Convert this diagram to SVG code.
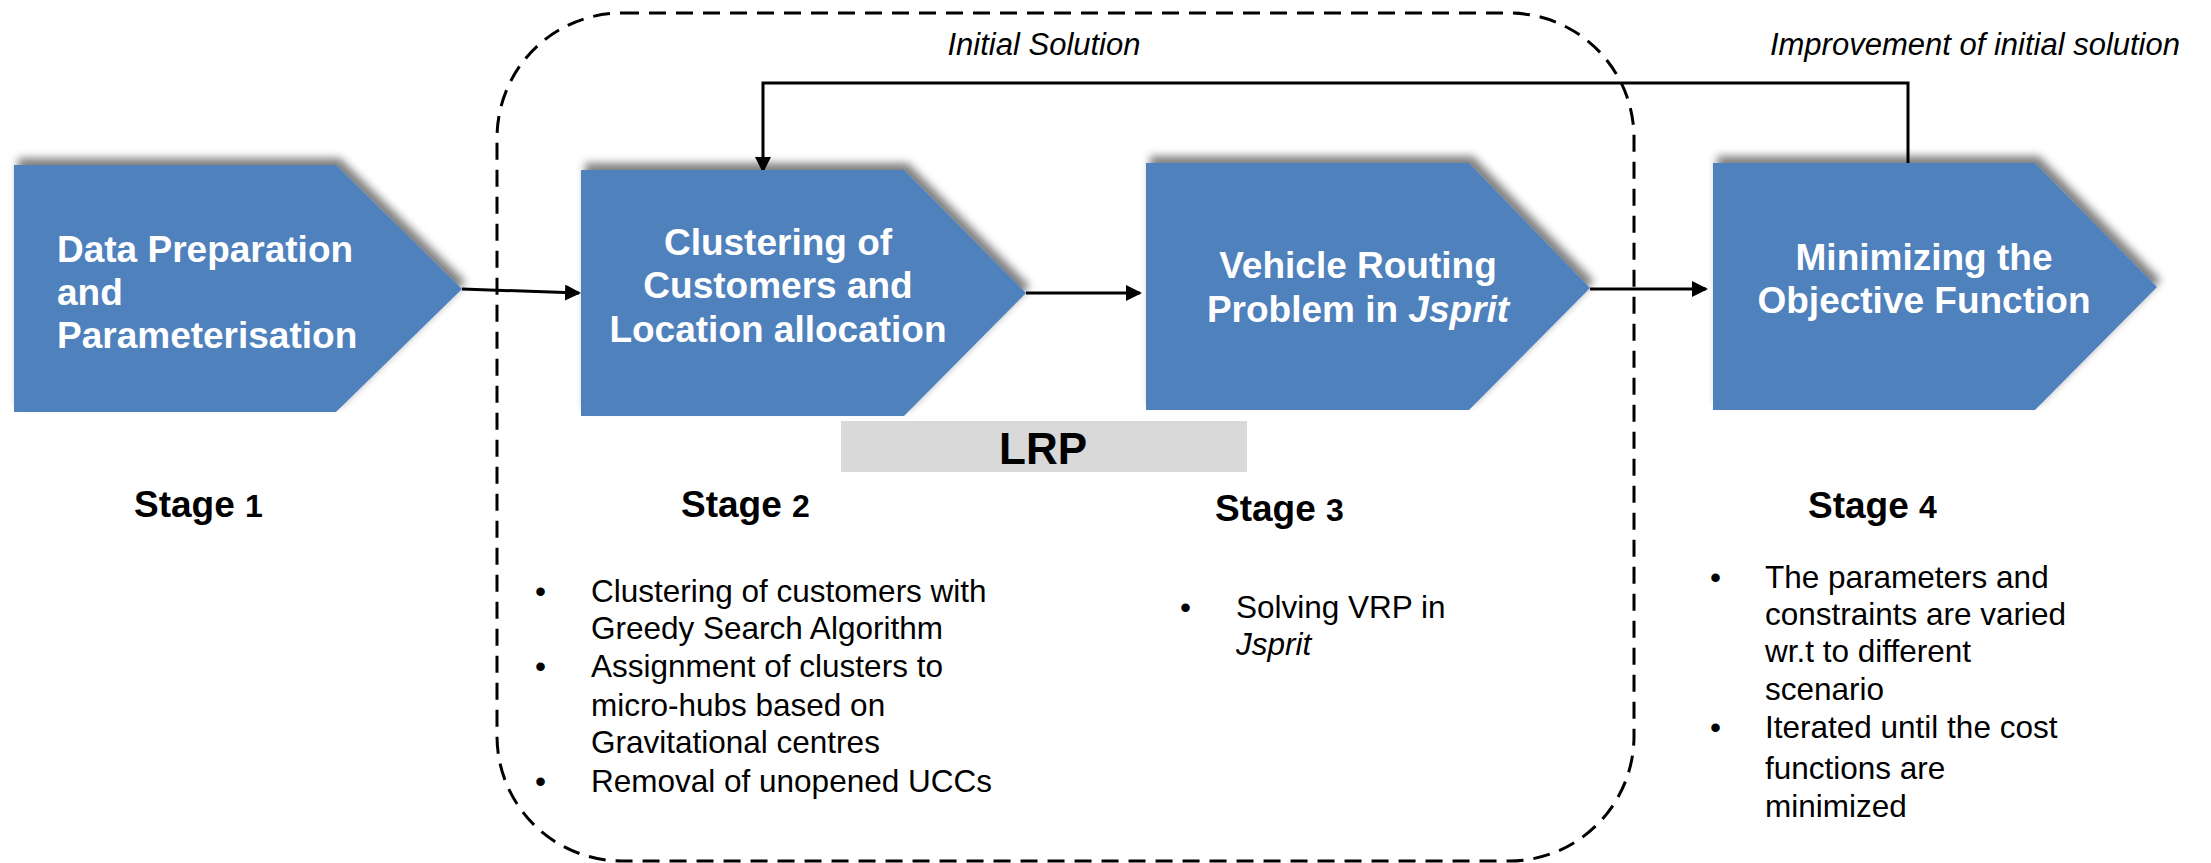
<svg xmlns="http://www.w3.org/2000/svg" width="2211" height="863" viewBox="0 0 2211 863">
  <defs>
    <style>
      .node { fill: #4f81bd; filter: url(#shadow); }
      .ntext { font-family: "Liberation Sans", Arial, sans-serif; font-weight: bold; font-size: 37px; fill: #ffffff; }
      .stage { font-family: "Liberation Sans", Arial, sans-serif; font-weight: bold; font-size: 37px; fill: #000000; }
      .stage .num { font-size: 32px; }
      .body { font-family: "Liberation Sans", Arial, sans-serif; font-size: 31.5px; fill: #000000; }
      .note { font-family: "Liberation Sans", Arial, sans-serif; font-style: italic; font-size: 31px; fill: #000000; }
      .conn { fill: none; stroke: #000000; stroke-width: 3; }
      .frame { fill: none; stroke: #000000; stroke-width: 3; stroke-dasharray: 17 10; }
    </style>
    <filter id="shadow" x="-10%" y="-15%" width="125%" height="130%">
      <feGaussianBlur in="SourceAlpha" stdDeviation="4"/>
      <feOffset dx="4" dy="-7"/>
      <feComponentTransfer>
        <feFuncA type="linear" slope="0.5"/>
      </feComponentTransfer>
      <feMerge>
        <feMergeNode/>
        <feMergeNode in="SourceGraphic"/>
      </feMerge>
    </filter>
    <marker id="arrow" viewBox="0 0 16 16" refX="14" refY="8" markerWidth="16" markerHeight="16" markerUnits="userSpaceOnUse" orient="auto">
      <path d="M0,0 L16,8 L0,16 z" fill="#000000"/>
    </marker>
  </defs>

  <rect width="2211" height="863" fill="#ffffff"/>

  <!-- LRP boundary around stages 2 and 3 -->
  <g id="lrp-frame">
    <rect class="frame" x="497" y="13" width="1137" height="848" rx="125" ry="125"/>
    <text class="note" x="1044" y="55" text-anchor="middle" font-size="30">Initial Solution</text>
  </g>

  <text id="improvement-label" class="note" x="2180" y="55" text-anchor="end">Improvement of initial solution</text>

  <!-- connectors -->
  <g id="connectors">
    <path class="conn" d="M462,289 L579,293" marker-end="url(#arrow)"/>
    <path class="conn" d="M1026,293 L1140,293" marker-end="url(#arrow)"/>
    <path class="conn" d="M1590,289 L1706,289" marker-end="url(#arrow)"/>
    <path class="conn" d="M1908,163 L1908,83 L763,83 L763,171" marker-end="url(#arrow)"/>
  </g>

  <!-- stage 1 -->
  <g id="node-data-preparation">
    <polygon class="node" points="14,165 336,165 462,289 336,412 14,412"/>
    <text class="ntext" x="57" y="262">Data Preparation</text>
    <text class="ntext" x="57" y="305">and</text>
    <text class="ntext" x="57" y="348">Parameterisation</text>
  </g>

  <!-- stage 2 -->
  <g id="node-clustering">
    <polygon class="node" points="581,170 904,170 1026,293 904,416 581,416"/>
    <text class="ntext" x="778" y="255" text-anchor="middle">Clustering of</text>
    <text class="ntext" x="778" y="298" text-anchor="middle">Customers and</text>
    <text class="ntext" x="778" y="342" text-anchor="middle">Location allocation</text>
  </g>

  <!-- stage 3 -->
  <g id="node-vrp">
    <polygon class="node" points="1146,163 1469,163 1590,288 1469,410 1146,410"/>
    <text class="ntext" x="1358" y="278" text-anchor="middle">Vehicle Routing</text>
    <text class="ntext" x="1358" y="322" text-anchor="middle">Problem in <tspan font-style="italic">Jsprit</tspan></text>
  </g>

  <!-- stage 4 -->
  <g id="node-objective">
    <polygon class="node" points="1713,163 2035,163 2157,287 2035,410 1713,410"/>
    <text class="ntext" x="1924" y="270" text-anchor="middle">Minimizing the</text>
    <text class="ntext" x="1924" y="313" text-anchor="middle">Objective Function</text>
  </g>

  <!-- LRP bar -->
  <g id="lrp-label">
    <rect x="841" y="421" width="406" height="51" fill="#d9d9d9"/>
    <text x="1043" y="464" text-anchor="middle" font-family="Liberation Sans, Arial, sans-serif" font-weight="bold" font-size="44" fill="#000000">LRP</text>
  </g>

  <!-- stage captions -->
  <g id="stage-captions">
    <text class="stage" x="134" y="517">Stage <tspan class="num">1</tspan></text>
    <text class="stage" x="681" y="517">Stage <tspan class="num">2</tspan></text>
    <text class="stage" x="1215" y="521">Stage <tspan class="num">3</tspan></text>
    <text class="stage" x="1808" y="518">Stage <tspan class="num">4</tspan></text>
  </g>

  <!-- stage 2 details -->
  <g id="stage2-details" class="body">
    <text x="535" y="602">•</text>
    <text x="591" y="602">Clustering of customers with</text>
    <text x="591" y="639">Greedy Search Algorithm</text>
    <text x="535" y="677">•</text>
    <text x="591" y="677">Assignment of clusters to</text>
    <text x="591" y="716">micro-hubs based on</text>
    <text x="591" y="753">Gravitational centres</text>
    <text x="535" y="792">•</text>
    <text x="591" y="792">Removal of unopened UCCs</text>
  </g>

  <!-- stage 3 details -->
  <g id="stage3-details" class="body">
    <text x="1180" y="618">•</text>
    <text x="1236" y="618">Solving VRP in</text>
    <text x="1236" y="655" font-style="italic">Jsprit</text>
  </g>

  <!-- stage 4 details -->
  <g id="stage4-details" class="body">
    <text x="1710" y="588">•</text>
    <text x="1765" y="588">The parameters and</text>
    <text x="1765" y="625">constraints are varied</text>
    <text x="1765" y="662">wr.t to different</text>
    <text x="1765" y="700">scenario</text>
    <text x="1710" y="738">•</text>
    <text x="1765" y="738">Iterated until the cost</text>
    <text x="1765" y="779">functions are</text>
    <text x="1765" y="817">minimized</text>
  </g>
</svg>
